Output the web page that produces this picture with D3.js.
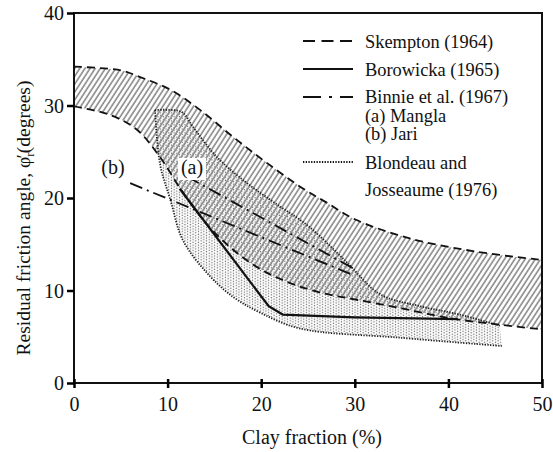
<!DOCTYPE html>
<html><head><meta charset="utf-8">
<script src="https://cdn.jsdelivr.net/npm/d3@7"></script>
<style>body{margin:0;background:#fff} svg text{font-family:"Liberation Serif", "Times New Roman", serif;}</style>
</head><body>
<svg id="chart" width="553" height="452"></svg>
<script>
// Axis ticks
const xTicks = [0, 10, 20, 30, 40, 50];
const yTicks = [0, 10, 20, 30, 40];

// Skempton (1964) band: [clay fraction %, residual angle deg]
const skemptonUpper = [[0,34.2],[5,33.8],[7,33.1],[10.3,31.7],[13.5,29.5],[17,26.6],[20.6,23.8],[24.5,21],[27,19.5],[30,17.7],[36,15.6],[43,14.2],[50,13.3]];
const skemptonLower = [[0,29.9],[3.8,29.0],[6.7,27.4],[9.2,24.4],[11.5,20.8],[14,17.4],[17,14.4],[20.1,12.2],[23.1,10.8],[26.6,9.7],[30.2,9.0],[34.8,8.1],[40.2,7.0],[45.5,6.3],[50,5.8]];

// Borowicka (1965)
const borowicka = [[11.3,21.0],[20.8,8.3],[22.3,7.4],[30,7.1],[41,6.9]];

// Binnie et al. (1967)
const mangla = [[12.1,22.3],[30,12.3]];
const jari = [[6.0,21.6],[30,11.6]];

// Blondeau and Josseaume (1976) band
const blondeauUpper = [[8.65,29.5],[11.5,29.3],[12.7,27.7],[15.3,24.4],[18.5,21.6],[21.7,19.3],[25,17],[29,13.2],[32.7,9.6],[37,8.3],[41.2,7.4],[45.5,6.2]];
const blondeauLower = [[8.65,29.5],[9.2,23.6],[10.3,19.8],[11.6,15.5],[14.2,11.9],[17,9.3],[19.9,7.6],[24.1,5.9],[34.8,4.9],[45.7,4.0]];

const legendItems = [
  {label: ["Skempton (1964)"], style: "dash"},
  {label: ["Borowicka (1965)"], style: "solid"},
  {label: ["Binnie et al. (1967)", "(a) Mangla", "(b) Jari"], style: "dashdot"},
  {label: ["Blondeau and", "Josseaume (1976)"], style: "dot"}
];

const svg = d3.select("#chart");
const x = d3.scaleLinear().domain([0, 50]).range([74, 542]);
const y = d3.scaleLinear().domain([0, 40]).range([383, 13]);

const defs = svg.append("defs");
const hatch = defs.append("pattern").attr("id", "hatch")
  .attr("patternUnits", "userSpaceOnUse").attr("width", 4.3).attr("height", 10)
  .attr("patternTransform", "rotate(33)");
hatch.append("line").attr("x1", 1).attr("x2", 1).attr("y1", 0).attr("y2", 10)
  .attr("stroke", "#888").attr("stroke-width", 1.6);
const stip = defs.append("pattern").attr("id", "stipple")
  .attr("patternUnits", "userSpaceOnUse").attr("width", 5.4).attr("height", 2.7);
[[1.35, 0.67], [4.05, 2.02]].forEach(([cx, cy]) =>
  stip.append("circle").attr("cx", cx).attr("cy", cy).attr("r", 0.7).attr("fill", "#6a6a6a"));
defs.append("clipPath").attr("id", "plot").append("rect")
  .attr("x", x(0)).attr("y", y(40)).attr("width", x(50) - x(0)).attr("height", y(0) - y(40));

const line = d3.line().x(d => x(d[0])).y(d => y(d[1])).curve(d3.curveCatmullRom.alpha(0.5));
const band = (up, low) => line(up) + line(low.slice().reverse()).replace(/^M/, "L") + "Z";

const g = svg.append("g").attr("clip-path", "url(#plot)");

// Blondeau stipple region, then Skempton hatch over it
g.append("path").attr("d", band(blondeauUpper, blondeauLower)).attr("fill", "url(#stipple)");
g.append("path").attr("d", band(skemptonUpper, skemptonLower)).attr("fill", "url(#hatch)");

const dotStyle = p => p.attr("fill", "none").attr("stroke", "#222").attr("stroke-width", 1.8).attr("stroke-dasharray", "1.3 1.4");
dotStyle(g.append("path").attr("d", line(blondeauUpper)));
dotStyle(g.append("path").attr("d", line(blondeauLower)));

[skemptonUpper, skemptonLower].forEach(s =>
  g.append("path").attr("d", line(s)).attr("fill", "none").attr("stroke", "#111")
    .attr("stroke-width", 1.8).attr("stroke-dasharray", "8 5"));

[mangla, jari].forEach(s =>
  g.append("path").attr("d", line(s)).attr("fill", "none").attr("stroke", "#111")
    .attr("stroke-width", 1.8).attr("stroke-dasharray", "13 5 2 5"));

g.append("path").attr("d", d3.line().x(d => x(d[0])).y(d => y(d[1]))(borowicka))
  .attr("fill", "none").attr("stroke", "#111").attr("stroke-width", 2.2);

// Curve labels
const lab = (t, cx, base, bg) => {
  if (bg) svg.append("rect").attr("x", cx - 14).attr("y", base - 16).attr("width", 28).attr("height", 22).attr("fill", "#fff");
  svg.append("text").attr("x", cx).attr("y", base).attr("text-anchor", "middle")
    .attr("font-size", 20).attr("fill", "#111").text(t);
};
lab("(a)", 192, 174, true);
lab("(b)", 113, 174, false);

// Frame and axes
svg.append("rect").attr("x", x(0)).attr("y", y(40)).attr("width", x(50) - x(0)).attr("height", y(0) - y(40))
  .attr("fill", "none").attr("stroke", "#111").attr("stroke-width", 2);

const xAxis = svg.append("g").attr("transform", `translate(0,${y(0)})`)
  .call(d3.axisBottom(x).tickValues(xTicks).tickSize(5).tickPadding(9));
xAxis.selectAll(".tick line").attr("y1", -4).attr("stroke-width", 2.5);
const yAxis = svg.append("g").attr("transform", `translate(${x(0)},0)`)
  .call(d3.axisLeft(y).tickValues(yTicks).tickSize(7).tickPadding(3));
yAxis.selectAll(".tick line").attr("stroke-width", 2.5);
[xAxis, yAxis].forEach(a => {
  a.select(".domain").remove();
  a.selectAll("text").attr("font-family", null).attr("font-size", 20).attr("fill", "#111");
});
yAxis.selectAll("text").attr("dy", "0.34em");

// Axis titles
svg.append("text").attr("x", 312).attr("y", 444).attr("text-anchor", "middle")
  .attr("font-size", 20).attr("fill", "#111").text("Clay fraction (%)");
const yt = svg.append("text").attr("transform", "translate(30,218) rotate(-90)").attr("text-anchor", "middle")
  .attr("font-size", 19.5).attr("fill", "#111");
yt.append("tspan").text("Residual friction angle, φ");
yt.append("tspan").attr("dy", 4).attr("font-size", 13).text("r");
yt.append("tspan").attr("dy", -4).attr("dx", -6).text("′");
yt.append("tspan").attr("dx", 1).text("(degrees)");

// Legend
const lg = svg.append("g");
const rowY = [41, 69, 97, 162];
const textY = [[48], [76], [103, 121.5, 140], [169, 196]];
legendItems.forEach((it, i) => {
  const l = lg.append("line").attr("x1", 303).attr("x2", 353).attr("y1", rowY[i]).attr("y2", rowY[i])
    .attr("stroke", "#111").attr("stroke-width", 2.2);
  if (it.style === "dash") l.attr("stroke-dasharray", "12 6.5");
  if (it.style === "dashdot") l.attr("stroke-dasharray", "18 8 3 8");
  if (it.style === "dot") l.attr("stroke-dasharray", "1.3 1.4").attr("stroke-width", 2);
  it.label.forEach((t, j) => lg.append("text").attr("x", 365).attr("y", textY[i][j])
    .attr("font-size", 18.4).attr("fill", "#111").text(t));
});
</script>
</body></html>
